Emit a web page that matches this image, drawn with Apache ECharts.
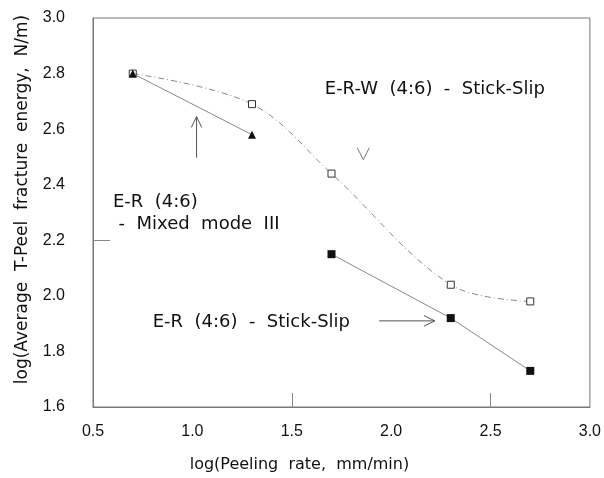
<!DOCTYPE html>
<html>
<head>
<meta charset="utf-8">
<script src="https://cdn.jsdelivr.net/npm/echarts@6/dist/echarts.min.js"></script>
<style>
  html, body { margin: 0; padding: 0; background: #fff; }
  #main { width: 604px; height: 478px; }
</style>
</head>
<body>
<div id="main"></div>
<script>
const chartDom = document.getElementById("main");
const chart = echarts.init(chartDom);

// data (log10 values)
const xTicks = [0.5, 1.0, 1.5, 2.0, 2.5, 3.0];
const yTicks = [1.6, 1.8, 2.0, 2.2, 2.4, 2.6, 2.8, 3.0];

const mixedX = [0.7, 1.3];
const mixedY = [2.80, 2.58];

const erwX = [0.7, 1.3, 1.7, 2.3, 2.7];
const erwY = [2.80, 2.69, 2.44, 2.04, 1.98];

const erX = [1.7, 2.3, 2.7];
const erY = [2.15, 1.92, 1.73];

const pairs = (xs, ys) => xs.map((x, i) => [x, ys[i]]);

const font = "'Liberation Sans', Arial, sans-serif";
const wide = "'DejaVu Sans', sans-serif";
const ink = '#111';

let option = {
    animation: false,
    grid: {
        left: 93,
        right: 12,
        top: 18,
        bottom: 70,
        show: true,
        borderColor: '#777',
        borderWidth: 1
    },
    xAxis: {
        type: 'value',
        min: xTicks[0],
        max: xTicks[xTicks.length - 1],
        interval: 0.5,
        name: 'log(Peeling  rate,  mm/min)',
        nameLocation: 'middle',
        nameGap: 50,
        nameTextStyle: { fontFamily: wide, fontSize: 16, color: ink, padding: [0, 84, 0, 0] },
        axisLine: { show: true, lineStyle: { color: '#777' } },
        axisTick: { show: true, inside: true, length: 14, customValues: [1.5, 2.5], lineStyle: { color: '#888' } },
        splitLine: { show: false },
        axisLabel: {
            margin: 17,
            fontFamily: font,
            fontSize: 16,
            color: ink,
            formatter: v => v.toFixed(1)
        }
    },
    yAxis: {
        type: 'value',
        min: yTicks[0],
        max: yTicks[yTicks.length - 1],
        interval: 0.2,
        name: 'log(Average  T-Peel  fracture  energy,  N/m)',
        nameLocation: 'middle',
        nameGap: 62,
        nameTextStyle: { fontFamily: wide, fontSize: 17, color: ink, padding: [0, 0, 0, 26] },
        axisLine: { show: true, lineStyle: { color: '#777' } },
        axisTick: { show: true, inside: true, length: 17, customValues: [2.2], lineStyle: { color: '#888' } },
        splitLine: { show: false },
        axisLabel: {
            margin: 28,
            fontFamily: font,
            fontSize: 16,
            color: ink,
            formatter: v => v.toFixed(1)
        }
    },
    series: [
        {
            name: 'E-R-W (4:6) - Stick-Slip',
            type: 'line',
            data: pairs(erwX, erwY),
            smooth: 0.35,
            symbol: 'rect',
            symbolSize: 7,
            itemStyle: { color: '#fff', borderColor: '#333', borderWidth: 1 },
            lineStyle: { color: '#888', width: 1, type: [6, 3, 1, 3] },
            z: 3
        },
        {
            name: 'E-R (4:6) - Mixed mode III',
            type: 'line',
            data: pairs(mixedX, mixedY),
            symbol: 'triangle',
            symbolSize: 8,
            itemStyle: { color: '#111' },
            lineStyle: { color: '#888', width: 1 },
            z: 4
        },
        {
            name: 'E-R (4:6) - Stick-Slip',
            type: 'line',
            data: pairs(erX, erY),
            symbol: 'rect',
            symbolSize: 8,
            itemStyle: { color: '#111' },
            lineStyle: { color: '#888', width: 1 },
            z: 4
        }
    ]
};

chart.setOption(option);

// annotations, placed in data space
const px = (x, y) => chart.convertToPixel({ gridIndex: 0 }, [x, y]);
const textStyle = { fontFamily: wide, fontSize: 18, fill: ink };

function label(text, x, y, align) {
    const p = px(x, y);
    return { type: 'text', x: p[0], y: p[1], style: Object.assign({ text: text, align: align, verticalAlign: 'middle' }, textStyle) };
}

function arrow(x1, y1, x2, y2) {
    const a = px(x1, y1), b = px(x2, y2);
    const ang = Math.atan2(b[1] - a[1], b[0] - a[0]);
    const h = 12, w = 0.45;
    const l = [b[0] - h * Math.cos(ang - w), b[1] - h * Math.sin(ang - w)];
    const r = [b[0] - h * Math.cos(ang + w), b[1] - h * Math.sin(ang + w)];
    return [
        { type: 'line', shape: { x1: a[0], y1: a[1], x2: b[0], y2: b[1] }, style: { stroke: '#555', lineWidth: 1 } },
        { type: 'polyline', shape: { points: [l, b, r] }, style: { stroke: '#555', lineWidth: 1, fill: null } }
    ];
}

const vTip = px(1.86, 2.49);
const graphics = [
    label('E-R-W  (4:6)  -  Stick-Slip', 2.22, 2.745, 'center'),
    label('E-R  (4:6)', 0.60, 2.337, 'left'),
    label(' -  Mixed  mode  III', 0.60, 2.258, 'left'),
    label('E-R  (4:6)  -  Stick-Slip', 0.80, 1.903, 'left'),
    ...arrow(1.021, 2.497, 1.021, 2.645),
    ...arrow(1.94, 1.91, 2.22, 1.91),
    { type: 'polyline', shape: { points: [[vTip[0] - 6, vTip[1] - 12], vTip, [vTip[0] + 6, vTip[1] - 12]] }, style: { stroke: '#777', lineWidth: 1, fill: null } }
];

chart.setOption({ graphic: graphics });
</script>
</body>
</html>
